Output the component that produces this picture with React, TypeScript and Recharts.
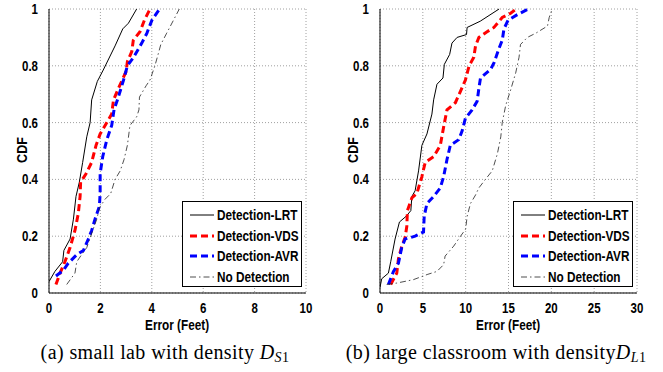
import { LineChart, Line, XAxis, YAxis, CartesianGrid } from "recharts";

// (a) small lab, error in feet vs CDF
const lrtSmall: number[][] = [
  [0, 0.04], [0.23, 0.076], [0.53, 0.11], [0.58, 0.15], [0.82, 0.19], [0.95, 0.26],
  [1.05, 0.34], [1.18, 0.39], [1.31, 0.46], [1.47, 0.55], [1.6, 0.6], [1.66, 0.68],
  [1.88, 0.745], [2.11, 0.785], [2.57, 0.87], [2.87, 0.93], [3.09, 0.95], [3.41, 1.0],
];
const vdsSmall: number[][] = [
  [0.27, 0.03], [0.43, 0.07], [0.62, 0.11], [0.82, 0.16], [1.01, 0.22], [1.14, 0.28],
  [1.21, 0.34], [1.23, 0.39], [1.44, 0.42], [1.66, 0.46], [1.83, 0.52], [1.99, 0.56],
  [2.25, 0.6], [2.44, 0.63], [2.51, 0.68], [2.7, 0.72], [3.0, 0.78], [3.05, 0.815],
  [3.22, 0.85], [3.28, 0.89], [3.54, 0.92], [3.71, 0.96], [3.93, 1.0],
];
const avrSmall: number[][] = [
  [0.27, 0.06], [0.56, 0.08], [0.75, 0.105], [1.08, 0.135], [1.34, 0.15], [1.53, 0.19],
  [1.66, 0.22], [1.79, 0.26], [1.96, 0.305], [1.99, 0.35], [1.99, 0.42], [2.09, 0.48],
  [2.25, 0.54], [2.44, 0.59], [2.53, 0.645], [2.7, 0.69], [2.9, 0.75], [3.05, 0.8],
  [3.29, 0.83], [3.61, 0.88], [3.81, 0.915], [4.0, 0.96], [4.3, 1.0],
];
const noneSmall: number[][] = [
  [0.69, 0.03], [1.01, 0.07], [1.08, 0.11], [1.27, 0.135], [1.47, 0.16], [1.66, 0.21],
  [1.86, 0.26], [1.96, 0.3], [2.18, 0.33], [2.4, 0.35], [2.57, 0.4], [2.77, 0.43],
  [2.92, 0.47], [3.05, 0.52], [3.15, 0.59], [3.41, 0.62], [3.5, 0.645], [3.52, 0.69],
  [3.78, 0.73], [3.93, 0.75], [4.12, 0.8], [4.26, 0.845], [4.35, 0.875], [4.58, 0.915],
  [4.84, 0.96], [5.07, 1.0],
];

// (b) large classroom
const lrtLarge: number[][] = [
  [0, 0.02], [0.2, 0.05], [0.98, 0.07], [1.25, 0.11], [1.76, 0.19], [2.27, 0.25],
  [3.05, 0.27], [3.6, 0.29], [3.72, 0.34], [4.1, 0.36], [4.5, 0.43], [4.89, 0.52],
  [5.48, 0.56], [6.06, 0.63], [6.26, 0.68], [6.65, 0.735], [7.35, 0.757], [7.51, 0.805],
  [8.13, 0.84], [8.4, 0.88], [9.0, 0.9], [10.1, 0.91], [10.17, 0.935], [11.7, 0.957],
  [13.9, 1.0],
];
const vdsLarge: number[][] = [
  [1.25, 0.03], [1.96, 0.07], [2.15, 0.12], [2.54, 0.165], [2.93, 0.195], [3.13, 0.235],
  [3.2, 0.29], [3.72, 0.335], [4.3, 0.35], [4.89, 0.41], [5.28, 0.46], [6.26, 0.48],
  [7.04, 0.52], [7.43, 0.585], [7.82, 0.645], [8.8, 0.67], [9.39, 0.71], [9.97, 0.75],
  [10.4, 0.8], [10.95, 0.83], [11.15, 0.87], [11.54, 0.9], [12.5, 0.92], [13.3, 0.935],
  [14.27, 0.97], [15.25, 0.985], [15.9, 1.0],
];
const avrLarge: number[][] = [
  [0.98, 0.03], [1.56, 0.075], [2.15, 0.105], [2.54, 0.16], [2.93, 0.19], [4.1, 0.2],
  [5.08, 0.215], [5.16, 0.27], [5.48, 0.315], [6.26, 0.34], [7.04, 0.37], [7.43, 0.41],
  [7.82, 0.47], [8.21, 0.52], [9.19, 0.54], [9.58, 0.57], [9.97, 0.615], [10.75, 0.645],
  [11.34, 0.675], [11.54, 0.72], [11.73, 0.757], [12.9, 0.787], [13.3, 0.81], [13.88, 0.86],
  [14.27, 0.89], [14.47, 0.93], [14.94, 0.96], [16.03, 0.98], [17.3, 1.0],
];
const noneLarge: number[][] = [
  [0.78, 0.03], [1.96, 0.035], [3.9, 0.047], [5.5, 0.065], [6.65, 0.076], [7.43, 0.1],
  [7.6, 0.13], [8.6, 0.165], [9.4, 0.2], [10.0, 0.225], [10.17, 0.27], [10.56, 0.315],
  [11.15, 0.345], [11.54, 0.37], [12.3, 0.4], [13.1, 0.43], [13.7, 0.49], [14.1, 0.55],
  [14.27, 0.6], [14.67, 0.66], [15.25, 0.715], [15.84, 0.775], [16.23, 0.83], [16.4, 0.875],
  [17.2, 0.9], [18.2, 0.915], [19.55, 0.94], [19.75, 0.97], [20.1, 1.0],
];

const xTicksSmall = [0, 2, 4, 6, 8, 10];
const xTicksLarge = [0, 5, 10, 15, 20, 25, 30];
const yTicks = [0, 0.2, 0.4, 0.6, 0.8, 1];
const seriesNames = ["Detection-LRT", "Detection-VDS", "Detection-AVR", "No Detection"];

const lineStyles = [
  { stroke: "#000000", width: 1, dash: undefined as string | undefined },
  { stroke: "#ff0000", width: 3, dash: "7 4" },
  { stroke: "#0000ff", width: 3, dash: "7 4" },
  { stroke: "#222222", width: 0.8, dash: "6 3 1.5 3" },
];

const sans = '"Liberation Sans", Arial, sans-serif';
const serif = '"Liberation Serif", "Times New Roman", serif';

// narrow bold tick text (the original uses Helvetica Narrow Bold)
function NarrowTick({ x, y, payload, textAnchor, dy }: any) {
  return (
    <text
      transform={`translate(${x},${y}) scale(0.82,1)`}
      textAnchor={textAnchor}
      dy={dy}
      fontFamily={sans}
      fontWeight="bold"
      fontSize={14}
      fill="#000"
    >
      {String(payload.value)}
    </text>
  );
}

const narrow = {
  display: "inline-block",
  transform: "scaleX(0.84)",
  transformOrigin: "left center",
  whiteSpace: "nowrap" as const,
  fontFamily: sans,
  fontWeight: "bold" as const,
  fontSize: 14,
  color: "#000",
};

function CdfLegend() {
  return (
    <div
      style={{
        position: "absolute",
        left: 182,
        top: 201,
        width: 120,
        height: 86,
        border: "1px solid #000",
        background: "#fff",
        boxSizing: "border-box",
        padding: "3px 0 0 6px",
      }}
    >
      {seriesNames.map((name, i) => (
        <div key={name} style={{ display: "flex", alignItems: "center", height: 20.5 }}>
          <svg width={26} height={10} style={{ marginRight: 2, flex: "none" }}>
            <line
              x1={1}
              y1={5}
              x2={25}
              y2={5}
              stroke={lineStyles[i].stroke}
              strokeWidth={lineStyles[i].width}
              strokeDasharray={lineStyles[i].dash}
            />
          </svg>
          <span style={narrow}>{name}</span>
        </div>
      ))}
    </div>
  );
}

function Panel({ left, sets, xMax, xTicks, caption }: any) {
  return (
    <div style={{ position: "absolute", left, top: 0, width: 330, height: 372 }}>
      <LineChart width={330} height={323} margin={{ top: 9, right: 24, left: 9, bottom: 0 }}>
        <CartesianGrid stroke="#888" strokeDasharray="1 2" strokeWidth={0.8} />
        <XAxis
          type="number"
          dataKey="x"
          domain={[0, xMax]}
          ticks={xTicks}
          tickLine={false}
          axisLine={{ stroke: "#000" }}
          tick={(p: any) => <NarrowTick {...p} dy="0.72em" />}
          tickMargin={4}
          height={30}
          allowDataOverflow
        />
        <XAxis
          xAxisId="top"
          orientation="top"
          type="number"
          domain={[0, xMax]}
          ticks={xTicks}
          tick={false}
          tickLine={false}
          height={0}
          axisLine={{ stroke: "#000" }}
        />
        <YAxis
          type="number"
          domain={[0, 1]}
          ticks={yTicks}
          tickLine={false}
          axisLine={{ stroke: "#000" }}
          tick={(p: any) => <NarrowTick {...p} dy="0.36em" />}
          tickMargin={5}
          width={40}
        />
        <YAxis
          yAxisId="right"
          orientation="right"
          type="number"
          domain={[0, 1]}
          ticks={yTicks}
          tick={false}
          tickLine={false}
          width={0}
          axisLine={{ stroke: "#000" }}
        />
        {sets.map((d: number[][], i: number) => (
          <Line
            key={seriesNames[i]}
            data={d.map(([x, y]) => ({ x, y }))}
            dataKey="y"
            type="linear"
            stroke={lineStyles[i].stroke}
            strokeWidth={lineStyles[i].width}
            strokeDasharray={lineStyles[i].dash}
            dot={false}
            activeDot={false}
            isAnimationActive={false}
          />
        ))}
      </LineChart>
      <div
        style={{
          position: "absolute",
          left: 7,
          top: 142,
          width: 30,
          textAlign: "center",
          transform: "rotate(-90deg) scaleX(0.9)",
          fontFamily: sans,
          fontWeight: "bold",
          fontSize: 14,
        }}
      >
        CDF
      </div>
      <div
        style={{
          position: "absolute",
          left: 49,
          top: 316,
          width: 257,
          textAlign: "center",
        }}
      >
        <span style={{ ...narrow, transformOrigin: "center center" }}>Error (Feet)</span>
      </div>
      <div
        style={{
          position: "absolute",
          left: 0,
          top: 341,
          width: 330,
          textAlign: "center",
          fontFamily: serif,
          fontSize: 20,
          letterSpacing: 0.4,
          whiteSpace: "nowrap",
        }}
      >
        {caption}
      </div>
      <CdfLegend />
    </div>
  );
}

export default function App() {
  return (
    <div
      style={{
        position: "absolute",
        left: 0,
        top: 0,
        width: 663,
        height: 372,
        background: "#fff",
        overflow: "hidden",
      }}
    >
      <Panel
        left={0}
        sets={[lrtSmall, vdsSmall, avrSmall, noneSmall]}
        xMax={10}
        xTicks={xTicksSmall}
        caption={
          <span>
            (a) small lab with density{" "}
            <i>D</i>
            <sub style={{ fontSize: 14, verticalAlign: "-3px" }}>
              <i>S</i>1
            </sub>
          </span>
        }
      />
      <Panel
        left={331}
        sets={[lrtLarge, vdsLarge, avrLarge, noneLarge]}
        xMax={30}
        xTicks={xTicksLarge}
        caption={
          <span>
            (b) large classroom with density
            <i>D</i>
            <sub style={{ fontSize: 14, verticalAlign: "-3px" }}>
              <i>L</i>1
            </sub>
          </span>
        }
      />
    </div>
  );
}
